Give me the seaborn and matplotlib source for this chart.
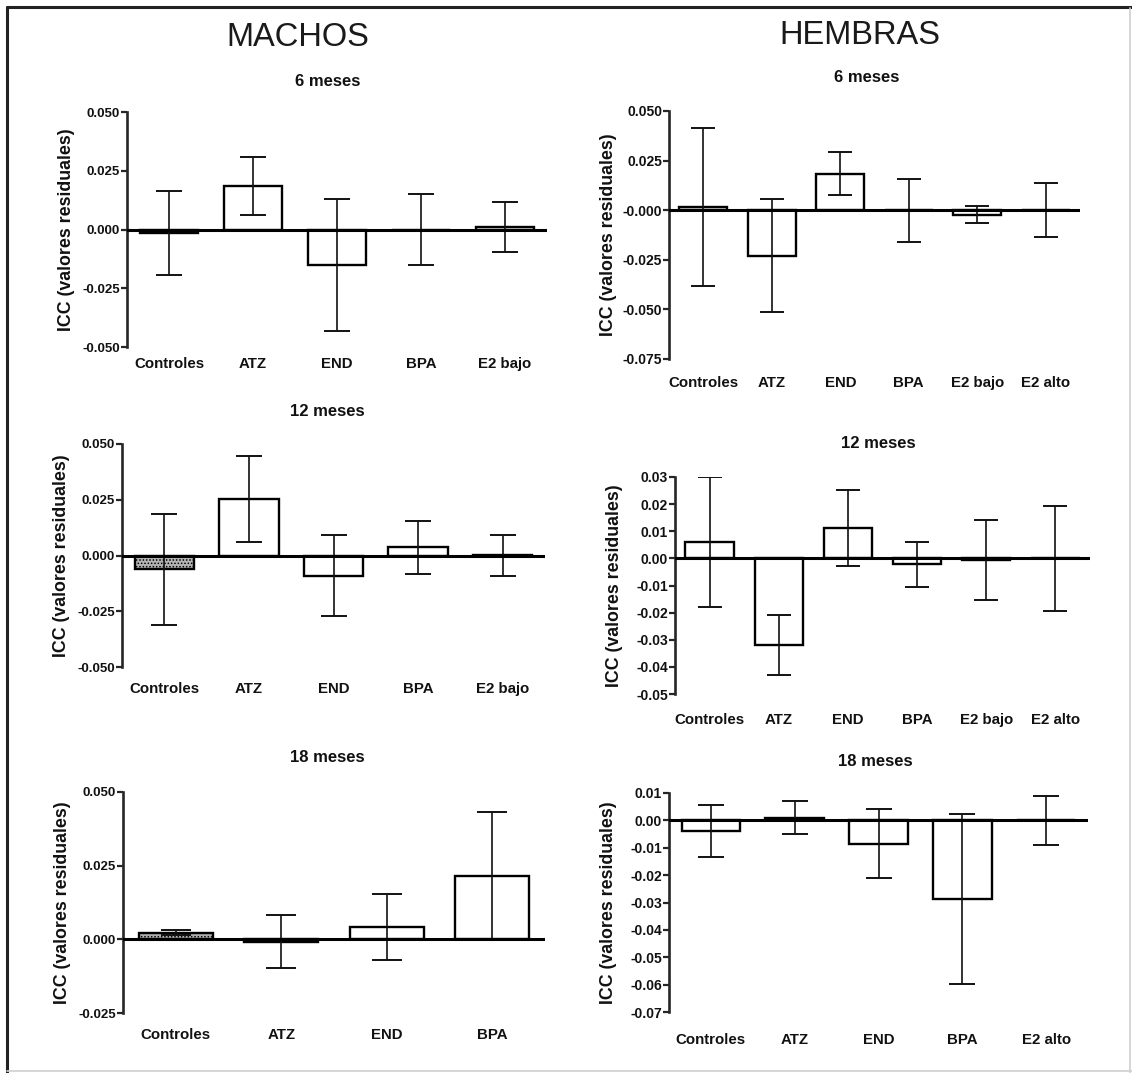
import matplotlib
matplotlib.use("Agg")
import matplotlib.pyplot as plt
from matplotlib.lines import Line2D
import numpy as np
import pandas as pd
import seaborn as sns

# ---- data: mean ICC residuals and SEM per treatment group ----
grupos_m = ["Controles", "ATZ", "END", "BPA", "E2 bajo"]
grupos_h = ["Controles", "ATZ", "END", "BPA", "E2 bajo", "E2 alto"]
grupos_m18 = ["Controles", "ATZ", "END", "BPA"]
grupos_h18 = ["Controles", "ATZ", "END", "BPA", "E2 alto"]

machos_6_media = [-0.0015, 0.0185, -0.0150, 0.0000, 0.0011]
machos_6_sem = [0.0180, 0.0125, 0.0280, 0.0153, 0.0105]

hembras_6_media = [0.0016, -0.0230, 0.0183, 0.0000, -0.0022, 0.0000]
hembras_6_sem = [0.0398, 0.0285, 0.0108, 0.0158, 0.0042, 0.0136]

machos_12_media = [-0.0062, 0.0252, -0.0090, 0.0036, 0.0002]
machos_12_sem = [0.0250, 0.0192, 0.0180, 0.0118, 0.0092]

hembras_12_media = [0.0060, -0.0320, 0.0113, -0.0022, -0.0006, 0.0000]
hembras_12_sem = [0.0240, 0.0110, 0.0140, 0.0082, 0.0147, 0.0194]

machos_18_media = [0.0022, -0.0008, 0.0042, 0.0215]
machos_18_sem = [0.0008, 0.0090, 0.0112, 0.0218]

hembras_18_media = [-0.0040, 0.0010, -0.0085, -0.0287, 0.0000]
hembras_18_sem = [0.0095, 0.0060, 0.0127, 0.0312, 0.0089]

ticks_m = [-0.050, -0.025, 0.000, 0.025, 0.050]
ticks_h6 = [-0.075, -0.050, -0.025, 0.000, 0.025, 0.050]
etiquetas_h6 = ["-0.075", "-0.050", "-0.025", "-0.000", "0.025", "0.050"]
ticks_h12 = [-0.05, -0.04, -0.03, -0.02, -0.01, 0.00, 0.01, 0.02, 0.03]
ticks_m18 = [-0.025, 0.000, 0.025, 0.050]
ticks_h18 = [-0.07, -0.06, -0.05, -0.04, -0.03, -0.02, -0.01, 0.00, 0.01]

sns.set_style("ticks")
plt.rcParams["font.family"] = ["Liberation Sans", "DejaVu Sans"]
plt.rcParams["axes.unicode_minus"] = False
plt.rcParams["hatch.linewidth"] = 0.7

W, H = 1132, 1073
fig = plt.figure(figsize=(W / 100, H / 100), dpi=100)
fig.patch.set_facecolor("white")


def rect(l, r, t, b):
    return [l / W, 1 - b / H, (r - l) / W, (b - t) / H]


def panel(box, grupos, media, sem, ticks, labels, title, title_xy,
          tick_fs, xpad, cap, hatch_ctrl):
    ax = fig.add_axes(rect(*box))
    df = pd.DataFrame({"grupo": grupos, "icc": media})
    sns.barplot(data=df, x="grupo", y="icc", color="white", saturation=1,
                edgecolor="black", linewidth=1.7, width=0.7,
                errorbar=None, ax=ax, zorder=2)
    if hatch_ctrl:
        ax.patches[0].set_facecolor("#b4b4b4")
        ax.patches[0].set_hatch(".....")
    ax.errorbar(np.arange(len(grupos)), media, yerr=sem, fmt="none",
                ecolor="#111111", elinewidth=1.2, capsize=cap, capthick=1.4,
                zorder=3)
    ax.axhline(0, color="black", lw=2.2, zorder=4)
    ax.set_xlim(-0.5, len(grupos) - 0.5)
    ax.set_ylim(ticks[0], ticks[-1])
    ax.set_yticks(ticks, labels)
    for s in ("top", "right", "bottom"):
        ax.spines[s].set_visible(False)
    ax.spines["left"].set_linewidth(1.9)
    ax.tick_params(axis="y", direction="out", length=4, width=1.6,
                   pad=1, labelsize=tick_fs)
    ax.tick_params(axis="x", length=0, pad=xpad, labelsize=10.8)
    for t in ax.get_yticklabels() + ax.get_xticklabels():
        t.set_fontweight("bold")
        t.set_color("#111111")
    ax.set_xlabel("")
    ax.set_ylabel("ICC (valores residuales)", fontsize=12.8,
                  fontweight="bold", color="#111111")
    width_px = box[1] - box[0]
    ax.yaxis.set_label_coords(-52 / width_px, 0.5)
    fig.text(title_xy[0] / W, 1 - title_xy[1] / H, title, ha="center",
             va="center", fontsize=12, fontweight="bold", color="#111111")
    return ax


fmt3 = lambda v: [f"{x:.3f}" for x in v]
fmt2 = lambda v: [f"{x:.2f}" for x in v]

panel((127, 547, 112, 347), grupos_m, machos_6_media, machos_6_sem,
      ticks_m, fmt3(ticks_m), "6 meses", (328, 81), 9.5, 7.5, 9.5, True)
panel((669, 1080, 111, 359), grupos_h, hembras_6_media, hembras_6_sem,
      ticks_h6, etiquetas_h6, "6 meses", (867, 77), 10, 12, 8.5, False)
panel((122, 545, 444, 667), grupos_m, machos_12_media, machos_12_sem,
      ticks_m, fmt3(ticks_m), "12 meses", (327, 412), 9.5, 11, 9.5, True)
panel((675, 1090, 477, 694), grupos_h, hembras_12_media, hembras_12_sem,
      ticks_h12, fmt2(ticks_h12), "12 meses", (878, 443), 10, 14, 8.5, False)
panel((123, 545, 792, 1013), grupos_m18, machos_18_media, machos_18_sem,
      ticks_m18, fmt3(ticks_m18), "18 meses", (327, 758), 9.5, 11, 10.5, True)
panel((669, 1088, 793, 1012), grupos_h18, hembras_18_media, hembras_18_sem,
      ticks_h18, fmt2(ticks_h18), "18 meses", (875, 762), 10, 15, 9.5, False)

fig.text(298 / W, 1 - 37 / H, "MACHOS", ha="center", va="center",
         fontsize=23.5, color="#1a1a1a")
fig.text(860 / W, 1 - 35 / H, "HEMBRAS", ha="center", va="center",
         fontsize=23.5, color="#1a1a1a")

# outer frame
fig.add_artist(Line2D([7 / W, 1], [1 - 7 / H, 1 - 7 / H], color="#222222",
                      lw=2.2, transform=fig.transFigure))
fig.add_artist(Line2D([7 / W, 7 / W], [0, 1 - 7 / H], color="#222222",
                      lw=2.2, transform=fig.transFigure))
fig.add_artist(Line2D([1130 / W, 1130 / W], [0, 1 - 8 / H], color="#d0d0d0",
                      lw=1.2, transform=fig.transFigure))
fig.add_artist(Line2D([7 / W, 1], [1 - 1071 / H, 1 - 1071 / H],
                      color="#d0d0d0", lw=1.2, transform=fig.transFigure))

fig.savefig("out.png", dpi=100, facecolor="white")
